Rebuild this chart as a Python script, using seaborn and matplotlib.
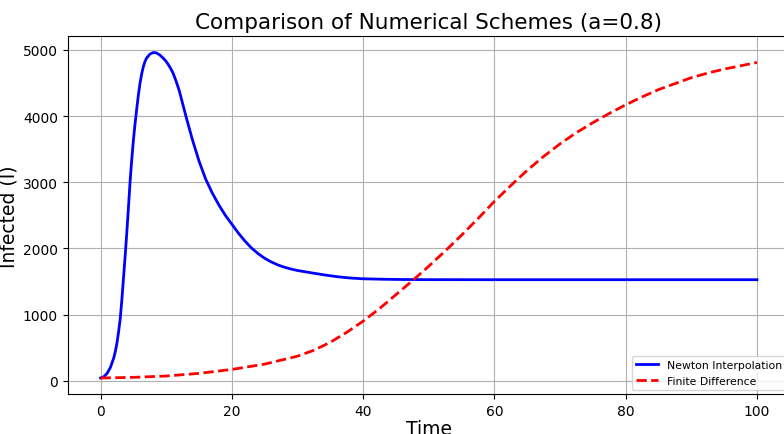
import numpy as np
import pandas as pd
import seaborn as sns
import matplotlib
matplotlib.use("Agg")
import matplotlib.pyplot as plt

#---------DATA
newton_t = [0, 0.5, 1.0, 1.5, 2.0, 2.25, 2.5, 2.75, 3.0, 3.25, 3.5, 3.75, 4.0,
            4.25, 4.5, 4.75, 5.0, 5.25, 5.5, 5.75, 6.0, 6.25, 6.5, 6.75, 7.0,
            7.5, 8.0, 8.5, 9.0, 9.5, 10, 10.5, 11, 11.5, 12, 13, 14, 15, 16,
            17, 18, 19, 20, 21, 22, 23, 24, 25, 26, 27, 28, 29, 30, 32, 34,
            36, 38, 40, 43, 46, 50, 60, 70, 80, 90, 100]
newton_i = [40, 60, 110, 200, 340, 440, 570, 740, 940, 1230, 1560, 1890, 2240,
            2620, 3010, 3340, 3630, 3880, 4100, 4310, 4490, 4630, 4740, 4820,
            4875, 4935, 4960, 4955, 4925, 4880, 4825, 4750, 4660, 4530, 4380,
            4000, 3640, 3320, 3050, 2840, 2660, 2500, 2365, 2230, 2110, 2005,
            1920, 1850, 1795, 1750, 1715, 1688, 1665, 1632, 1600, 1572, 1552,
            1540, 1533, 1529, 1527, 1526, 1526, 1526, 1526, 1526]

fd_t = [0, 5, 10, 15, 20, 25, 30, 32.5, 35, 37.5, 40, 42.5, 45, 47.5, 50, 52.5,
        55, 57.5, 60, 62.5, 65, 67.5, 70, 72.5, 75, 77.5, 80, 82.5, 85, 87.5,
        90, 92.5, 95, 97.5, 100]
fd_i = [40, 50, 70, 110, 170, 250, 370, 460, 580, 730, 900, 1090, 1300, 1510,
        1730, 1960, 2200, 2450, 2710, 2950, 3180, 3390, 3580, 3750, 3900, 4040,
        4170, 4290, 4400, 4490, 4580, 4650, 4710, 4760, 4810]

newton = pd.DataFrame({"Time": newton_t, "Infected": newton_i})
fd = pd.DataFrame({"Time": fd_t, "Infected": fd_i})

#---------LINE CHART
fig = plt.figure(figsize=(7.84, 4.35), dpi=100)
ax = fig.add_axes([0.0864, 0.0913, 0.921, 0.823])

sns.lineplot(x="Time", y="Infected", data=newton, ax=ax, color="blue",
             linewidth=2, label="Newton Interpolation")
sns.lineplot(x="Time", y="Infected", data=fd, ax=ax, color="red",
             linewidth=2, linestyle="--", label="Finite Difference")

ax.set_title("Comparison of Numerical Schemes (a=0.8)", fontsize=15.5)
ax.set_xlabel("Time", fontsize=13.5, labelpad=1)
ax.set_ylabel("Infected (I)", fontsize=13.5, labelpad=3)
ax.grid(True)
# legend tucked into the lower right corner of the visible area
ax.legend(loc="lower left", bbox_to_anchor=(0.7816, 0.012),
          borderaxespad=0, fontsize=7.8)

fig.savefig("out.png", dpi=100)
